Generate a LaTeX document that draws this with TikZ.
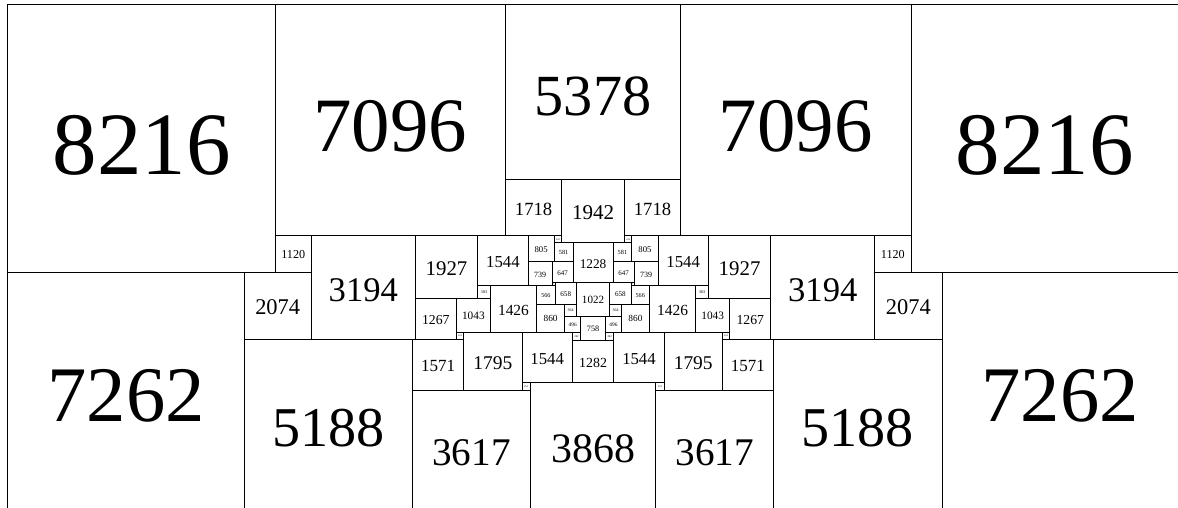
\documentclass[tikz,border=0pt]{standalone}
\usepackage{fontspec}
\setmainfont{Liberation Serif}
\usepackage{tikz}

% one unit of the squared rectangle
\newdimen\tileunit
\tileunit=0.01625pt
% \tile{name}{left}{top}{side}, all in units, top measured downwards
\newcommand\tile[4]{%
  \edef\tilex{\the\dimexpr #2\tileunit + #4\tileunit/2\relax}%
  \edef\tiley{\the\dimexpr -#3\tileunit - #4\tileunit/2\relax}%
  \edef\tilesz{\the\dimexpr #4\tileunit\relax}%
  \edef\tilefs{\the\dimexpr #4\tileunit/3\relax}%
  \edef\tileht{\the\dimexpr #4\tileunit*27/100\relax}%
  \node[tile, minimum size=\tilesz, text height=\tileht,
        font=\fontsize{\tilefs}{\tilefs}\selectfont] (#1) at (\tilex,\tiley) {#4};}

\begin{document}
\begin{tikzpicture}[line width=0.5pt,
    tile/.style={draw, inner sep=0pt, outer sep=0pt, text depth=0pt}]
  \useasboundingbox (-4pt,2.5pt) rectangle (585pt,-251.5pt);
  % top row
  \tile{l8216}{0}{0}{8216}
  \tile{l7096}{8216}{0}{7096}
  \tile{c5378}{15312}{0}{5378}
  \tile{r7096}{20690}{0}{7096}
  \tile{r8216}{27786}{0}{8216}
  \tile{l1718}{15312}{5378}{1718}
  \tile{c1942}{17030}{5378}{1942}
  \tile{r1718}{18972}{5378}{1718}

  % left half
  \tile{l7262}{0}{8216}{7262}
  \tile{l1120}{8216}{7096}{1120}
  \tile{l2074}{7262}{8216}{2074}
  \tile{l3194}{9336}{7096}{3194}
  \tile{l1927}{12530}{7096}{1927}
  \tile{l1544a}{14457}{7096}{1544}
  \tile{l805}{16001}{7096}{805}
  \tile{l224a}{16806}{7096}{224}
  \tile{l581}{16806}{7320}{581}
  \tile{l739}{16001}{7901}{739}
  \tile{l647}{16740}{7901}{647}
  \tile{l92}{16740}{8548}{92}
  \tile{l383}{14457}{8640}{383}
  \tile{l1267}{12530}{9023}{1267}
  \tile{l1043}{13797}{9023}{1043}
  \tile{l1426}{14840}{8640}{1426}
  \tile{l566}{16266}{8640}{566}
  \tile{l658}{16832}{8548}{658}
  \tile{l860}{16266}{9206}{860}
  \tile{l364}{17126}{9206}{364}
  \tile{l496}{17126}{9570}{496}
  \tile{l224b}{13797}{10066}{224}
  \tile{l1571}{12450}{10290}{1571}
  \tile{l1795}{14021}{10066}{1795}
  \tile{l1544b}{15816}{10066}{1544}
  \tile{l262}{17360}{10066}{262}
  \tile{l251}{15816}{11610}{251}
  \tile{l5188}{7262}{10290}{5188}
  \tile{l3617}{12450}{11861}{3617}

  % middle column
  \tile{c1228}{17387}{7320}{1228}
  \tile{c1022}{17490}{8548}{1022}
  \tile{c758}{17622}{9570}{758}
  \tile{c1282}{17360}{10328}{1282}
  \tile{c3868}{16067}{11610}{3868}

  % right half, mirror of the left
  \tile{r7262}{28740}{8216}{7262}
  \tile{r1120}{26666}{7096}{1120}
  \tile{r2074}{26666}{8216}{2074}
  \tile{r3194}{23472}{7096}{3194}
  \tile{r1927}{21545}{7096}{1927}
  \tile{r1544a}{20001}{7096}{1544}
  \tile{r805}{19196}{7096}{805}
  \tile{r224a}{18972}{7096}{224}
  \tile{r581}{18615}{7320}{581}
  \tile{r739}{19262}{7901}{739}
  \tile{r647}{18615}{7901}{647}
  \tile{r92}{19170}{8548}{92}
  \tile{r383}{21162}{8640}{383}
  \tile{r1267}{22205}{9023}{1267}
  \tile{r1043}{21162}{9023}{1043}
  \tile{r1426}{19736}{8640}{1426}
  \tile{r566}{19170}{8640}{566}
  \tile{r658}{18512}{8548}{658}
  \tile{r860}{18876}{9206}{860}
  \tile{r364}{18512}{9206}{364}
  \tile{r496}{18380}{9570}{496}
  \tile{r224b}{21981}{10066}{224}
  \tile{r1571}{21981}{10290}{1571}
  \tile{r1795}{20186}{10066}{1795}
  \tile{r1544b}{18642}{10066}{1544}
  \tile{r262}{18380}{10066}{262}
  \tile{r251}{19935}{11610}{251}
  \tile{r5188}{23552}{10290}{5188}
  \tile{r3617}{19935}{11861}{3617}
\end{tikzpicture}
\end{document}
